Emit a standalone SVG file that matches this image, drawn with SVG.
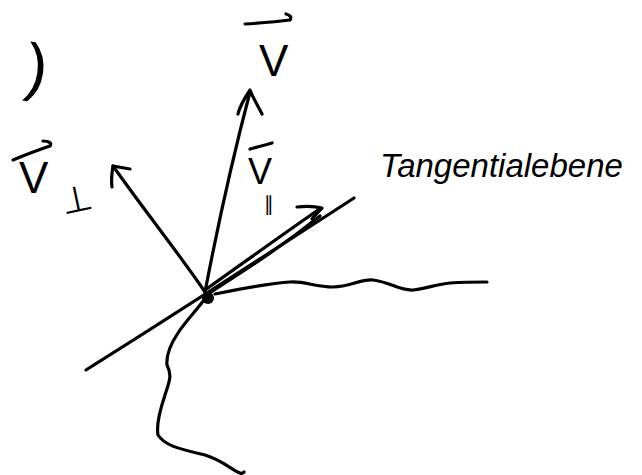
<svg xmlns="http://www.w3.org/2000/svg" width="642" height="475" viewBox="0 0 642 475">
<style>
.s{fill:none;stroke:#000;stroke-width:3.2;stroke-linecap:round;stroke-linejoin:round}
.t{font-family:"Liberation Sans","DejaVu Sans",sans-serif;fill:#000}
</style>
<rect width="642" height="475" fill="#fff"/>
<g id="surface">
<path class="s" d="M86,370 C150,330 220,285 354,198"/>
<path class="s" d="M215,294 C245,288 270,283 290,282 C305,281 315,287 333,287 C350,287 360,279 373,280 C390,282 400,291 413,290 C425,289 437,284 450,283 C465,282 475,282 487,282"/>
<path class="s" d="M204,300 C195,312 185,322 178,333 C170,345 166,355 167,365 C172,375 170,380 165,395 C160,410 156,425 158,435 C165,446 180,449 205,455 C222,460 232,470 240,473 C242,474 243,473 244,472"/>
<circle cx="208" cy="298" r="6" fill="#000"/>
</g>
<g id="connectors">
<path class="s" d="M205,292 C215,240 232,160 250,92"/>
<path class="s" d="M238,114 C240,105 246,96 250,90 C253,98 258,106 262,114"/>
<path class="s" d="M205,292 C180,255 150,218 113,166"/>
<path class="s" d="M112,187 C111,180 112,172 113,166 C118,167 124,168 130,169"/>
<path class="s" d="M205,290 C240,265 275,240 318,210"/>
<path class="s" d="M208,294 C245,270 280,248 320,216"/>
<path class="s" d="M297,207 C305,206 314,206 322,208 C318,212 315,215 312,219"/>
</g>
<g id="labels">
<text class="t" x="26" y="88" font-size="64" transform="rotate(8 30 70)">)</text>
<g id="label-v">
<path class="s" d="M245,24 C260,23 275,22 290,20 C292,17 290,15 286,14"/>
<text class="t" x="259" y="76" font-size="44">V</text>
</g>
<g id="label-vpar">
<path class="s" d="M250,149 C258,147 265,145 272,143"/>
<text class="t" x="248" y="184" font-size="36">V</text>
<text class="t" x="264" y="211" font-size="20">∥</text>
</g>
<g id="label-vperp">
<path class="s" d="M13,160 C25,155 38,150 50,146 C52,143 49,141 43,141"/>
<text class="t" x="19" y="193" font-size="44">V</text>
<text class="t" x="60" y="212" font-size="36" transform="rotate(-12 75 195)">⊥</text>
</g>
<text id="label-tangent" class="t" x="380" y="177" font-size="33" font-style="italic">Tangentialebene</text>
</g>
</svg>
